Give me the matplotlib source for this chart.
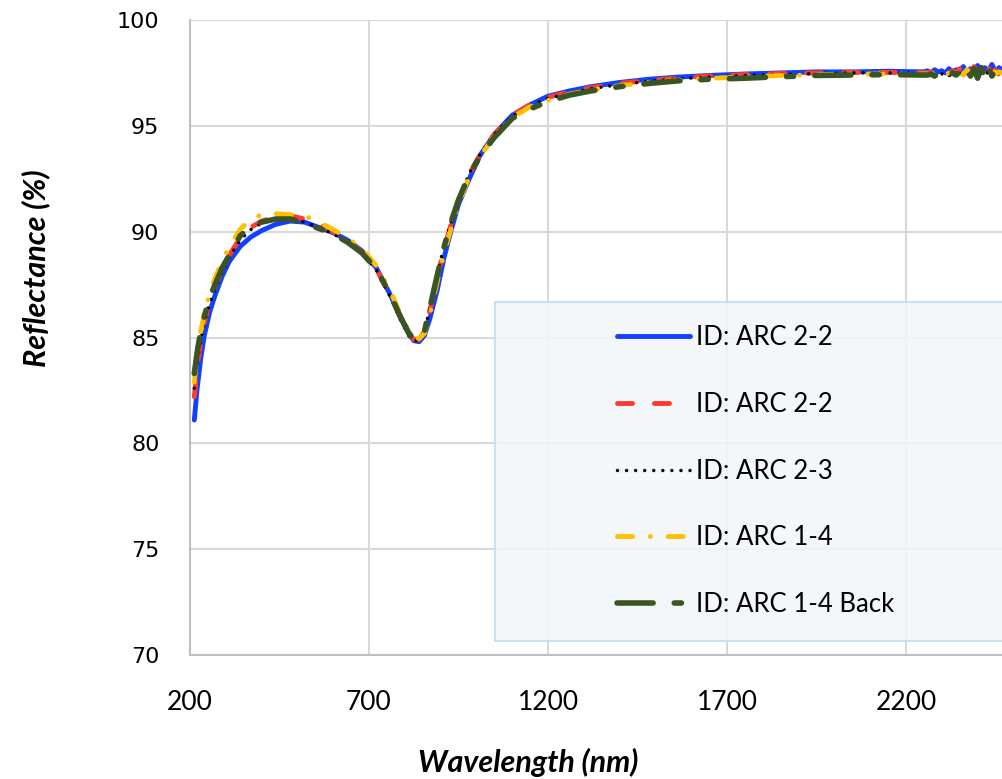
import matplotlib.pyplot as plt
from matplotlib.patches import Rectangle

# ======================================
# 光谱数据 (nm, %)
# ======================================

wl_main = [212, 220, 230, 240, 255, 270, 290, 310, 340, 370,
           400, 440, 480, 520, 560, 600, 640, 680, 720, 760,
           790, 810, 825, 840, 855, 870, 890, 910, 930, 950,
           980, 1010, 1050, 1100, 1150, 1200, 1260, 1320, 1400, 1480,
           1560, 1650, 1750, 1850, 1950, 2050, 2150, 2250]
wl_tail = [2260, 2270, 2280, 2290, 2300, 2310, 2320, 2330, 2340, 2350, 2360,
           2370, 2380, 2390, 2400, 2410, 2420, 2430, 2440, 2450, 2460, 2470]
wavelength = wl_main + wl_tail

arc22_a = [81.1, 82.6, 84.0, 85.1, 86.2, 87.0, 87.9, 88.6, 89.3, 89.75,
           90.05, 90.35, 90.5, 90.45, 90.2, 89.95, 89.6, 89.1, 88.3, 87.0,
           85.9, 85.2, 84.85, 84.8, 85.1, 85.9, 87.2, 88.8, 90.1, 91.3,
           92.5, 93.6, 94.6, 95.5, 96.0, 96.4, 96.65, 96.85, 97.05, 97.2,
           97.3, 97.38, 97.45, 97.5, 97.55, 97.55, 97.58, 97.55,
           97.6, 97.5, 97.65, 97.55, 97.6, 97.5, 97.7, 97.55, 97.65, 97.6, 97.8,
           97.5, 97.7, 97.6, 97.85, 97.5, 97.75, 97.6, 97.9, 97.55, 97.75, 97.6]

arc22_b = [82.2, 83.6, 84.8, 85.7, 86.7, 87.4, 88.2, 88.9, 89.7, 90.2,
           90.5, 90.7, 90.75, 90.6, 90.35, 90.0, 89.6, 89.05, 88.25, 87.0,
           85.85, 85.2, 84.9, 84.9, 85.3, 86.3, 87.8, 89.2, 90.4, 91.45,
           92.7, 93.65, 94.6, 95.5, 96.0, 96.35, 96.6, 96.8, 97.0, 97.15,
           97.25, 97.35, 97.42, 97.47, 97.5, 97.52, 97.52, 97.5,
           97.5, 97.55, 97.45, 97.6, 97.5, 97.65, 97.45, 97.6, 97.5, 97.7, 97.4,
           97.65, 97.5, 97.8, 97.45, 97.7, 97.35, 97.75, 97.5, 97.65, 97.4, 97.7]

arc23 = [82.6, 83.8, 84.9, 85.7, 86.6, 87.3, 88.1, 88.8, 89.6, 90.1,
         90.4, 90.6, 90.6, 90.45, 90.2, 89.9, 89.5, 89.0, 88.2, 86.9,
         85.75, 85.1, 84.85, 84.85, 85.3, 86.4, 87.95, 89.35, 90.5, 91.5,
         92.75, 93.65, 94.6, 95.45, 95.95, 96.3, 96.55, 96.75, 96.95, 97.1,
         97.22, 97.3, 97.38, 97.43, 97.47, 97.5, 97.5, 97.48,
         97.45, 97.5, 97.4, 97.55, 97.45, 97.5, 97.35, 97.6, 97.4, 97.55, 97.3,
         97.6, 97.45, 97.5, 97.25, 97.65, 97.4, 97.55, 97.3, 97.6, 97.45, 97.5]

arc14 = [82.9, 84.2, 85.3, 86.1, 87.1, 87.8, 88.6, 89.3, 90.1, 90.6,
         90.8, 90.85, 90.8, 90.75, 90.45, 90.1, 89.7, 89.2, 88.4, 87.2,
         86.0, 85.35, 85.0, 84.95, 85.2, 86.1, 87.6, 89.0, 90.2, 91.3,
         92.6, 93.55, 94.5, 95.4, 95.9, 96.2, 96.5, 96.7, 96.9, 97.05,
         97.15, 97.25, 97.3, 97.38, 97.42, 97.45, 97.45, 97.45,
         97.45, 97.4, 97.5, 97.45, 97.55, 97.4, 97.5, 97.6, 97.45, 97.55, 97.4,
         97.65, 97.5, 97.45, 97.7, 97.4, 97.6, 97.5, 97.75, 97.45, 97.55, 97.5]

arc14_back = [83.3, 84.3, 85.3, 86.0, 86.9, 87.5, 88.3, 88.9, 89.8, 90.25,
              90.45, 90.6, 90.6, 90.4, 90.15, 89.9, 89.5, 89.0, 88.25, 87.0,
              85.9, 85.25, 84.9, 84.9, 85.3, 86.4, 87.9, 89.3, 90.5, 91.5,
              92.7, 93.55, 94.45, 95.35, 95.8, 96.15, 96.45, 96.65, 96.85, 97.0,
              97.12, 97.2, 97.25, 97.32, 97.38, 97.4, 97.42, 97.4,
              97.4, 97.45, 97.35, 97.5, 97.4, 97.45, 97.3, 97.5, 97.4, 97.55, 97.3,
              97.6, 97.35, 97.7, 97.25, 97.75, 97.3, 97.8, 97.35, 97.65, 97.3, 97.5]

x_ticks = [200, 700, 1200, 1700, 2200]
y_ticks = [70, 75, 80, 85, 90, 95, 100]

# ======================================
# 画布
# ======================================

fig = plt.figure(figsize=(10.03, 7.79), dpi=100)
ax = fig.add_axes([190 / 1003, 1 - 655 / 779, 1 - 190 / 1003, 635 / 779])

ax.set_xlim(200, 200 + (1003 - 190) / 0.358)
ax.set_ylim(70, 100)
ax.set_xticks(x_ticks)
ax.set_yticks(y_ticks)

ax.grid(True, color="#D9D9D9", lw=1.5, zorder=0)
ax.set_axisbelow(True)
for side in ["top", "right"]:
    ax.spines[side].set_visible(False)
for side in ["left", "bottom"]:
    ax.spines[side].set_color("#BFBFBF")
    ax.spines[side].set_linewidth(1.5)

ax.tick_params(length=0)
ax.tick_params(axis="x", pad=25, labelsize=19, labelfontfamily="Lato")
ax.tick_params(axis="y", pad=22, labelsize=16, labelfontfamily="DejaVu Sans")

# ======================================
# 曲线
# ======================================

lines = []
lines += ax.plot(wavelength, arc22_a, color="#1240FF", lw=3.5,
                 solid_capstyle="round", solid_joinstyle="round",
                 label="ID: ARC 2-2", zorder=3)
lines += ax.plot(wavelength, arc22_b, color="#FF3B30", lw=3.5,
                 dashes=(3.1, 4.5), dash_capstyle="round",
                 label="ID: ARC 2-2", zorder=4)
lines += ax.plot(wavelength, arc23, color="black", lw=2.5,
                 dashes=(0.01, 2.6), dash_capstyle="round",
                 label="ID: ARC 2-3", zorder=5)
lines += ax.plot(wavelength, arc14, color="#FFC000", lw=3.5,
                 dashes=(3.1, 3.65, 0.01, 3.65), dash_capstyle="round",
                 label="ID: ARC 1-4", zorder=6)
lines += ax.plot(wavelength, arc14_back, color="#3A5424", lw=4,
                 dashes=(6.5, 3.8, 1.3, 3.8), dash_capstyle="round",
                 label="ID: ARC 1-4 Back", zorder=7)

# 图例底框
ax.add_patch(Rectangle((0.375, 0.022), 0.7, 0.534, transform=ax.transAxes,
                       facecolor="#F3F6FA", edgecolor="#C5DBEF", lw=1.5,
                       alpha=0.85, zorder=2, clip_on=False))

leg = ax.legend(handles=lines, loc="upper left",
                bbox_to_anchor=(0.525, 0.52), frameon=False,
                borderpad=0, borderaxespad=0, handlelength=2.85,
                handletextpad=0.25, labelspacing=1.63,
                prop={"family": "Lato", "size": 18.5})
leg.set_zorder(8)

# ======================================
# 坐标轴标题
# ======================================

fig.text(528 / 1003, 1 - 762 / 779, "Wavelength (nm)", ha="center",
         va="center", fontfamily="Lato", fontsize=22, fontweight="bold",
         fontstyle="italic")
fig.text(36 / 1003, 1 - 268 / 779, "Reflectance (%)", ha="center",
         va="center", rotation=90, fontfamily="Lato", fontsize=22,
         fontweight="bold", fontstyle="italic")

plt.savefig("out.png", dpi=100)
plt.close()
